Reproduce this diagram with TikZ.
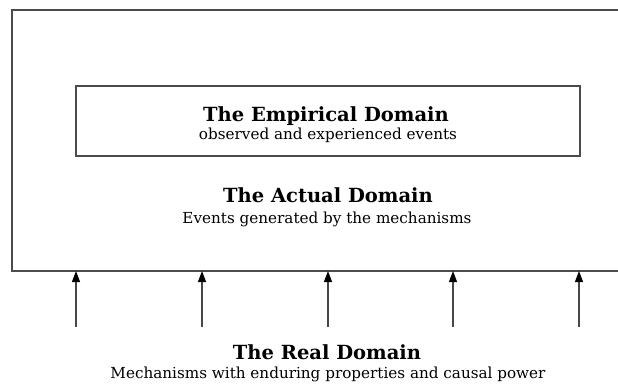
\documentclass[tikz,border=0pt]{standalone}
\usepackage{fontspec}
\setmainfont{DejaVu Serif}
\usetikzlibrary{arrows.meta}
\begin{document}
\begin{tikzpicture}[x=1pt,y=1pt,
  frame/.style={draw=black!70, line width=1.4pt, inner sep=0pt},
  heading/.style={font=\fontsize{19.5}{22}\selectfont\bfseries, anchor=base, inner sep=0pt},
  caption/.style={font=\fontsize{15.2}{17}\selectfont, anchor=base, inner sep=0pt},
  cause/.style={draw=black!72, line width=1.1pt, -{Triangle[length=11pt,width=8pt,color=black]}}]
\useasboundingbox[fill=white] (0,0) rectangle (618,386);

% actual domain: large frame running off the right edge of the page
\draw[frame] (618,376) -- (12,376) -- (12,115) -- (618,115);
\coordinate (actualBase) at (12,115);

% empirical domain: inner box
\node[frame, minimum width=504pt, minimum height=70pt] (empirical) at (328,265) {};

\node[heading] (empT) at (326,264) {The Empirical Domain};
\node[caption] (empS) at (328,246) {observed and experienced events};

\node[heading] (actT) at (328,183) {The Actual Domain};
\node[caption] (actS) at (327,163) {Events generated by the mechanisms};

\node[heading] (realT) at (327,27) {The Real Domain};
\node[caption] (realS) at (328,8) {Mechanisms with enduring properties and causal power};

% mechanisms pushing up into the actual domain
\foreach \i/\x in {1/76,2/202,3/328,4/453,5/579}{
  \coordinate (m\i) at (\x,59);
  \draw[cause] (m\i) -- (m\i |- actualBase);
}
\end{tikzpicture}
\end{document}
